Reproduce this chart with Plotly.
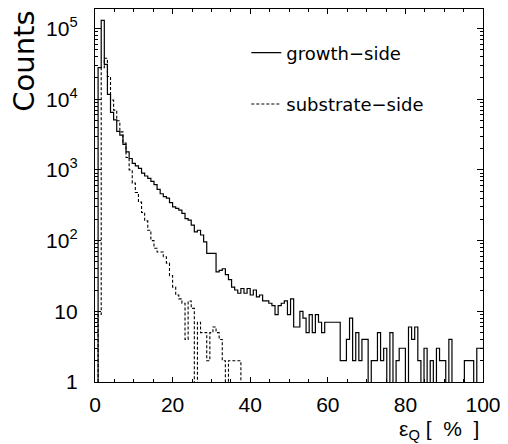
import numpy as np
import plotly.graph_objects as go

# ---- data ----
x_range = [0, 100]
growth_side = [
    0, 28000, 130000, 31000, 11700, 6500, 5100, 3500, 3100, 2300,
    1800, 1450, 1240, 1140, 1050, 900, 820, 760, 690, 620,
    530, 460, 420, 400, 345, 300, 285, 270, 243, 205,
    195, 166, 133, 140, 120, 96, 66, 66, 66, 36,
    38, 40, 33, 28, 22, 20, 18, 21, 18, 21,
    17, 20, 16, 17, 14, 14, 13, 12, 9, 12,
    13, 14, 9, 15, 6, 6, 10, 8, 5, 9,
    5, 9, 7, 5, 7, 7, 7, 7, 7, 2,
    2, 4, 8, 2, 5, 2, 4, 4, 0, 2,
    2, 5, 2, 3, 0, 5, 0, 2, 3, 3,
    0, 6, 4, 6, 2, 0, 3, 0, 2, 0,
    3, 2, 2, 0, 4, 0, 0, 0, 0, 2,
    2, 2, 0, 3, 3,
]
substrate_side = [
    0, 9, 28000, 38000, 21000, 9700, 7000, 4950, 3450, 2400,
    1500, 1000, 650, 480, 350, 250, 190, 140, 100, 78,
    69, 69, 59, 48, 32, 22, 17, 15, 13, 4,
    14, 11, 0, 7, 5, 5, 2, 5, 6, 5,
    4, 2, 0, 2, 2, 2, 2, 0, 0, 0,
] + [0] * 75
y_tickvals = [1, 10, 100, 1000, 10000, 100000]
y_ticktext = ["1", "10", "10<sup>2</sup>", "10<sup>3</sup>", "10<sup>4</sup>", "10<sup>5</sup>"]
x_tickvals = [0, 20, 40, 60, 80, 100]

n_bins = len(growth_side)
edges = np.linspace(x_range[0], x_range[1], n_bins + 1)


def step_y(vals):
    v = np.asarray(vals, dtype=float)
    v = np.where(v > 0, v, 0.05)  # empty bins drop below the axis
    return np.append(v, v[-1])


fig = go.Figure()
fig.add_trace(go.Scatter(
    x=edges, y=step_y(growth_side), mode="lines", line_shape="hv",
    line=dict(color="black", width=1.2), name="growth\u2212side",
    legendgroup="a"))
fig.add_trace(go.Scatter(
    x=edges, y=step_y(substrate_side), mode="lines", line_shape="hv",
    line=dict(color="black", width=1.1, dash="3px,2px"), name="substrate\u2212side",
    legendgroup="b"))

minor_y = [m * 10 ** d for d in range(0, 6) for m in range(2, 10) if m * 10 ** d < 10 ** 5.28]

fig.update_xaxes(
    range=x_range, tickvals=x_tickvals, ticks="inside", ticklen=5,
    tickcolor="black", showline=True, linecolor="black", linewidth=1.3,
    mirror="allticks", showgrid=False, zeroline=False, automargin=False,
    tickfont=dict(family="Liberation Sans", size=21, color="black"),
    ticklabelstandoff=4,
    minor=dict(dtick=5, ticks="inside", ticklen=3, tickcolor="black", showgrid=False),
)
fig.update_yaxes(
    type="log", range=[0, 5.276], tickvals=y_tickvals, ticktext=y_ticktext,
    ticks="inside", ticklen=6, tickcolor="black", showline=True,
    linecolor="black", linewidth=1.3, mirror="allticks", showgrid=False,
    zeroline=False, automargin=False,
    tickfont=dict(family="Liberation Sans", size=21, color="black"),
    ticklabelstandoff=12,
    minor=dict(tickvals=minor_y, ticks="inside", ticklen=3, tickcolor="black", showgrid=False),
)

# the page body has an 8px margin, so the figure is sized/offset to compensate
fig.update_layout(
    width=500, height=436,
    margin=dict(l=87, r=25, t=1, b=62, autoexpand=False),
    paper_bgcolor="white", plot_bgcolor="white",
    showlegend=True,
    legend=dict(x=0.39, y=0.932, xanchor="left", yanchor="top",
                bgcolor="rgba(0,0,0,0)", traceorder="grouped",
                tracegroupgap=25,
                font=dict(family="DejaVu Sans", size=18, color="black")),
    annotations=[
        dict(text="Counts", xref="paper", yref="paper",
             x=-0.185, y=1.0, xanchor="center", yanchor="top",
             textangle=-90, showarrow=False,
             font=dict(family="DejaVu Sans", size=29, color="black")),
        dict(text="\u03b5<sub>Q</sub>\u00a0[\u00a0\u00a0%\u00a0\u00a0]", xref="paper", yref="paper",
             x=0.995, y=-0.128, xanchor="right", yanchor="middle", showarrow=False,
             font=dict(family="Liberation Sans", size=21, color="black")),
    ],
)

fig.write_html("out.html")
